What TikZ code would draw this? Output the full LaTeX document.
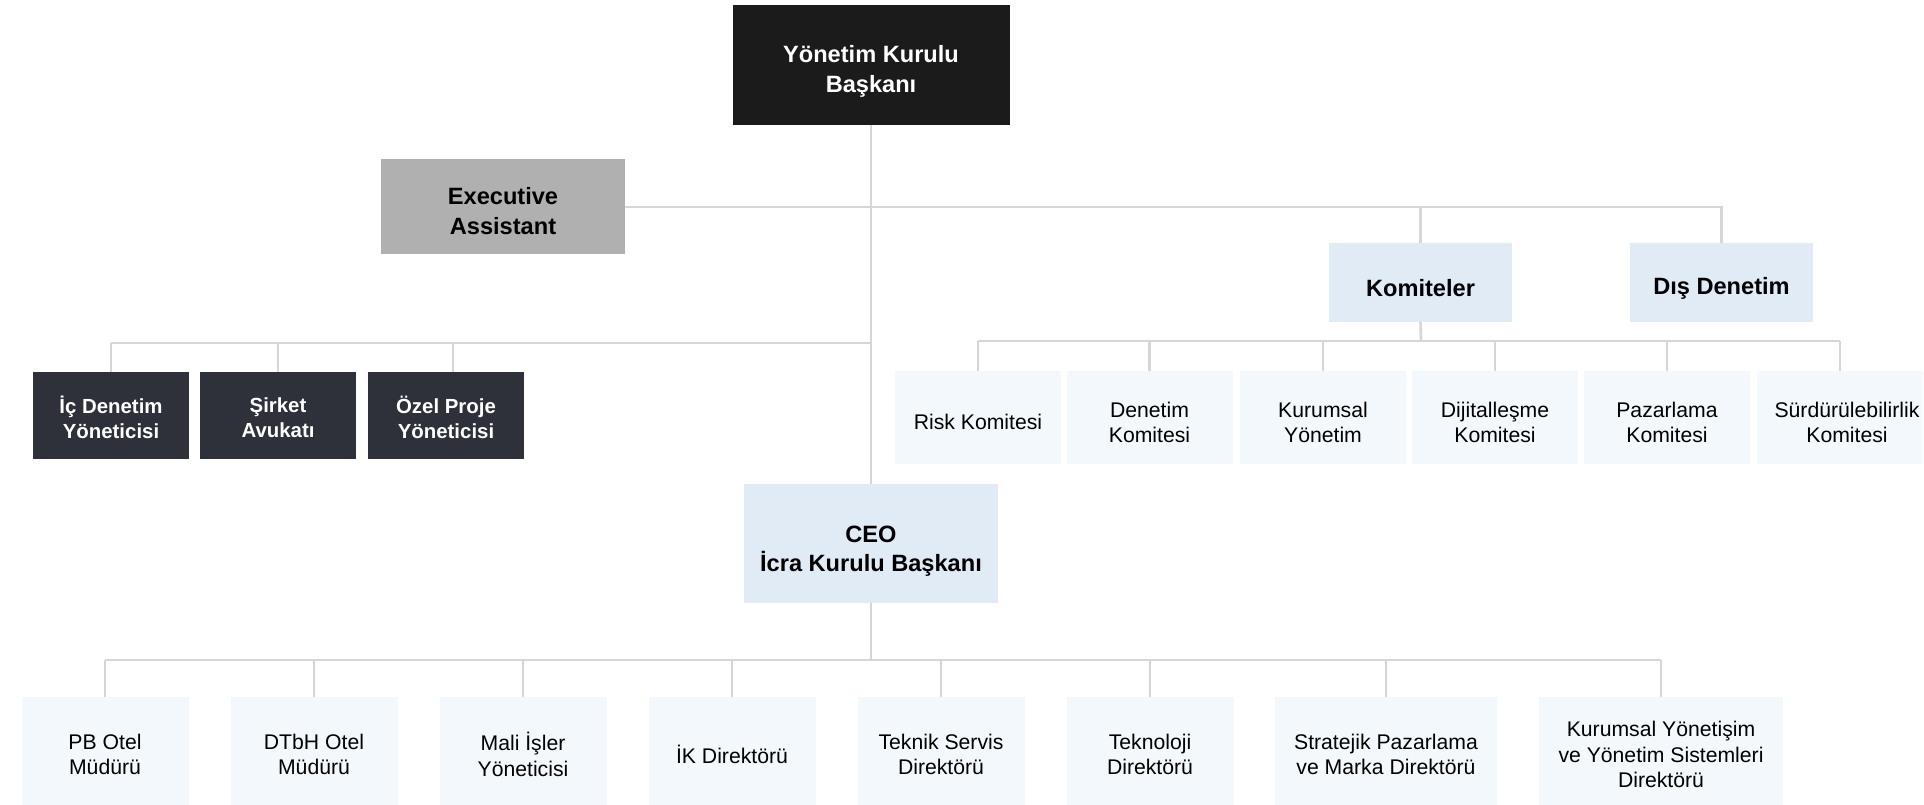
\documentclass[tikz,border=0pt]{standalone}
\usepackage{fontspec}
\setmainfont{Liberation Sans}
\definecolor{topc}{HTML}{1B1B1B}
\definecolor{execc}{HTML}{B0B0B0}
\definecolor{darkc}{HTML}{2E3139}
\definecolor{bluec}{HTML}{E1EBF6}
\definecolor{palec}{HTML}{F3F8FC}
\definecolor{linec}{HTML}{D6D6D6}
\tikzset{
  box/.style={rectangle, inner sep=0pt, draw=none},
  txt/.style={inner sep=0pt, align=center},
  bigt/.style={txt, font=\fontsize{23.6}{29.5}\selectfont\bfseries},
  smallt/.style={txt, font=\fontsize{20.4}{25}\selectfont\bfseries, text=white},
  regt/.style={txt, font=\fontsize{21.2}{25.5}\selectfont, text=black},
  smallb/.style={box, fill=darkc, minimum width=156pt, minimum height=87pt},
  comm/.style={box, fill=palec, minimum width=166pt, minimum height=93pt},
  dirb/.style={box, fill=palec, minimum height=115pt},
  conn/.style={draw=linec, line width=2.6pt}
}
% #1 name, #2 box style, #3 position, #4 text style, #5 downward shift, #6 text
\newcommand{\orgbox}[6]{%
  \node[#2] (#1) at (#3) {};
  \node[#4] (#1-t) at ([yshift=-#5pt]#1.center) {#6};
}
\begin{document}
\begin{tikzpicture}[x=1pt,y=-1pt]
\clip (0,0) rectangle (1924,804);
\fill[white] (0,0) rectangle (1924,804);
% top level
\orgbox{top}{box, fill=topc, minimum width=277pt, minimum height=120pt}{871,65}{bigt, text=white}{6.5}{Yönetim Kurulu\\Başkanı}
\orgbox{exec}{box, fill=execc, minimum width=244pt, minimum height=95pt}{503,206}{bigt}{5}{Executive\\Assistant}
\orgbox{kom}{box, fill=bluec, minimum width=183pt, minimum height=79pt}{1420.5,282.5}{bigt}{6}{Komiteler}
\orgbox{dis}{box, fill=bluec, minimum width=183pt, minimum height=79pt}{1721.5,282.5}{bigt}{6}{Dış Denetim}
% left group
\orgbox{ic}{smallb}{111,415.5}{smallt}{2}{İç Denetim\\Yöneticisi}
\orgbox{sir}{smallb}{278,415.5}{smallt}{2}{Şirket\\Avukatı}
\orgbox{oz}{smallb}{446,415.5}{smallt}{2}{Özel Proje\\Yöneticisi}
% committees
\orgbox{risk}{comm}{978,417.5}{regt}{4}{Risk Komitesi}
\orgbox{den}{comm}{1149.5,417.5}{regt}{5}{Denetim\\Komitesi}
\orgbox{kur}{comm}{1323,417.5}{regt}{5}{Kurumsal\\Yönetim}
\orgbox{dij}{comm}{1495,417.5}{regt}{5}{Dijitalleşme\\Komitesi}
\orgbox{paz}{comm}{1667,417.5}{regt}{5}{Pazarlama\\Komitesi}
\orgbox{sur}{comm}{1840,417.5}{regt, xshift=7pt}{5}{Sürdürülebilirlik\\Komitesi}
% CEO
\orgbox{ceo}{box, fill=bluec, minimum width=254pt, minimum height=119pt}{871,543.5}{bigt}{7.5}{CEO\\İcra Kurulu Başkanı}
% directors
\orgbox{pb}{dirb, minimum width=167pt}{105,754.5}{regt}{0}{PB Otel\\Müdürü}
\orgbox{dt}{dirb, minimum width=167pt}{314,754.5}{regt}{0}{DTbH Otel\\Müdürü}
\orgbox{mali}{dirb, minimum width=167pt}{523,754.5}{regt}{0}{Mali İşler\\Yöneticisi}
\orgbox{ik}{dirb, minimum width=167pt}{732,754.5}{regt}{0}{İK Direktörü}
\orgbox{tek}{dirb, minimum width=167pt}{941,754.5}{regt}{0}{Teknik Servis\\Direktörü}
\orgbox{tekn}{dirb, minimum width=167pt}{1150,754.5}{regt}{0}{Teknoloji\\Direktörü}
\orgbox{str}{dirb, minimum width=222pt}{1386,754.5}{regt}{0}{Stratejik Pazarlama\\ve Marka Direktörü}
\orgbox{kys}{dirb, minimum width=244pt}{1661,754.5}{regt}{0}{Kurumsal Yönetişim\\ve Yönetim Sistemleri\\Direktörü}
% junctions
\coordinate (hj) at (871,207);
\coordinate (lj) at (871,343);
\coordinate (kj) at (1421,341);
\coordinate (bj) at (871,660);
\coordinate (ozd) at (453,372);
% connectors
\draw[conn] (top.south) -- (ceo.north);
\draw[conn] (exec.east |- hj) -- (dis.north |- hj) -- (dis.north);
\draw[conn] (kom.north |- hj) -- (kom.north);
\draw[conn] (ic.north |- lj) -- (lj);
\draw[conn] (ic.north) -- (ic.north |- lj);
\draw[conn] (sir.north) -- (sir.north |- lj);
\draw[conn] (ozd) -- (ozd |- lj);
\draw[conn] (kom.south) -- (kj);
\draw[conn] (risk.north |- kj) -- (sur.north |- kj);
\foreach \n in {risk,den,kur,dij,paz,sur} \draw[conn] (\n.north) -- (\n.north |- kj);
\draw[conn] (ceo.south) -- (bj);
\draw[conn] (pb.north |- bj) -- (kys.north |- bj);
\foreach \n in {pb,dt,mali,ik,tek,tekn,str,kys} \draw[conn] (\n.north) -- (\n.north |- bj);
\end{tikzpicture}
\end{document}
